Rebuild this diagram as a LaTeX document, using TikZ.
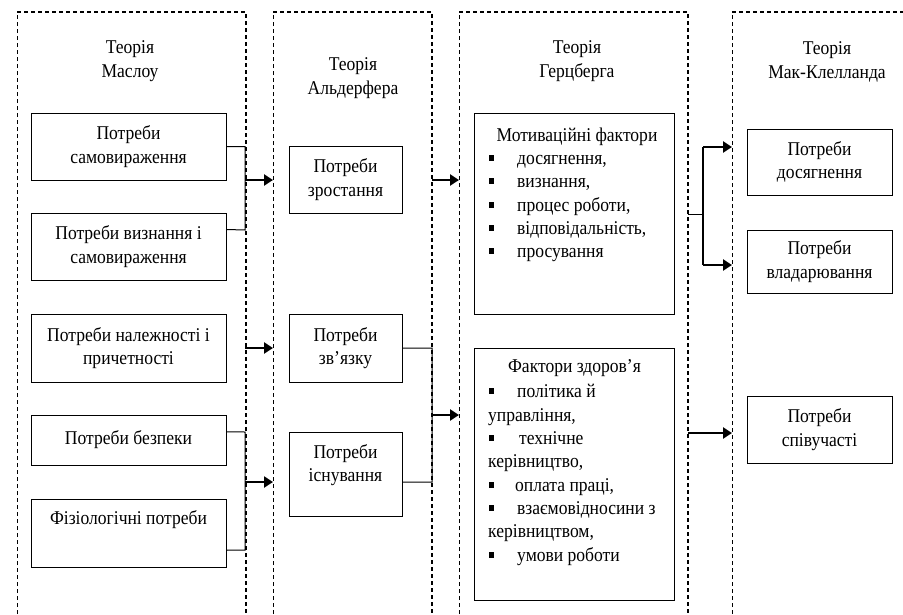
\documentclass[tikz,border=0pt]{standalone}
\usepackage{fontspec}
\setmainfont{Liberation Serif}[FakeStretch=0.9]
\usetikzlibrary{arrows.meta,calc}
\begin{document}
\begin{tikzpicture}[x=1pt,y=-1pt,
  every node/.style={font=\fontsize{19.5}{23.5}\selectfont, inner sep=0pt},
  frame/.style={line width=1.3pt, dash pattern=on 4pt off 3pt},
  thinframe/.style={line width=0.9pt, dash pattern=on 4pt off 3pt},
  box/.style={draw, line width=1pt, align=center},
  stub/.style={line width=1pt},
  arr/.style={line width=2.4pt, -{Triangle[length=9pt,width=11pt]}},
  title/.style={align=center},
  ln/.style={anchor=base west},
  bul/.style={fill=black, minimum size=5.5pt, inner sep=0pt},
]
\useasboundingbox (0,0) rectangle (903,614);
% frames
\draw[thinframe] (17,614) -- (17,12);
\draw[frame] (17,12) -- (246,12) -- (246,614);
\draw[thinframe] (273,614) -- (273,12);
\draw[frame] (273,12) -- (432,12) -- (432,614);
\draw[thinframe] (459,614) -- (459,12);
\draw[frame] (459,12) -- (688,12) -- (688,614);
\draw[thinframe] (732,614) -- (732,12);
\draw[frame] (732,12) -- (903,12);

% titles
\node[title] (tm) at (130,61) {Теорія\\Маслоу};
\node[title] (ta) at (353,78) {Теорія\\Альдерфера};
\node[title] (th) at (577,61) {Теорія\\Герцберга};
\node[title] (tc) at (827,62) {Теорія\\Мак-Клелланда};

% Maslow boxes
\node[box, minimum width=195pt, minimum height=67pt] (m1) at (128.5,146.5) {Потреби\\самовираження};
\node[box, minimum width=195pt, minimum height=67pt] (m2) at (128.5,246.5) {Потреби визнання і\\самовираження};
\node[box, minimum width=195pt, minimum height=68pt] (m3) at (128.5,348) {Потреби належності і\\причетності};
\node[box, minimum width=195pt, minimum height=50pt] (m4) at (128.5,440) {Потреби безпеки};
\node[box, minimum width=195pt, minimum height=68pt] (m5) at (128.5,533) {};
\node (m5t) at (128.5,520) {Фізіологічні потреби};

% Alderfer boxes
\node[box, minimum width=113pt, minimum height=67pt] (a1) at (345.5,179.5) {Потреби\\зростання};
\node[box, minimum width=113pt, minimum height=68pt] (a2) at (345.5,348) {Потреби\\зв’язку};
\node[box, minimum width=113pt, minimum height=84pt] (a3) at (345.5,474) {};
\node[title] (a3t) at (345.5,465) {Потреби\\існування};

% Herzberg boxes
\node[box, minimum width=200pt, minimum height=201pt] (h1) at (574,213.5) {};
\node[box, minimum width=200pt, minimum height=252pt] (h2) at (574,474) {};

\node[anchor=base] (h1t) at (577,141) {Мотиваційні фактори};
\foreach \y/\t [count=\i] in {164/{досягнення,},187/{визнання,},211/{процес роботи,},234/{відповідальність,},257/{просування}}{
  \node[bul] (hb\i) at (491.5,\y-6) {};
  \node[ln] (hl\i) at (517,\y) {\t};
}

\node[anchor=base] (h2t) at (574.5,372) {Фактори здоров’я};
\node[bul] (kb1) at (491.5,391) {};
\node[ln] (kl1) at (517,397) {політика й};
\node[ln] (kl1b) at (488,421) {управління,};
\node[bul] (kb2) at (491.5,438) {};
\node[ln] (kl2) at (519,444) {технічне};
\node[ln] (kl2b) at (488,467) {керівництво,};
\node[bul] (kb3) at (491.5,485) {};
\node[ln] (kl3) at (515,491) {оплата праці,};
\node[bul] (kb4) at (491.5,508) {};
\node[ln] (kl4) at (517,514) {взаємовідносини з};
\node[ln] (kl4b) at (488,537) {керівництвом,};
\node[bul] (kb5) at (491.5,555) {};
\node[ln] (kl5) at (517,561) {умови роботи};

% McClelland boxes
\node[box, minimum width=145pt, minimum height=66pt] (c1) at (819.5,162) {Потреби\\досягнення};
\node[box, minimum width=145pt, minimum height=63pt] (c2) at (819.5,261.5) {Потреби\\владарювання};
\node[box, minimum width=145pt, minimum height=67pt] (c3) at (819.5,429.5) {Потреби\\співучасті};

% connector coordinates
\coordinate (m2s) at ($(m2.north east)!0.25!(m2.south east)$);
\coordinate (m4s) at ($(m4.north east)!0.34!(m4.south east)$);
\coordinate (m5s) at ($(m5.north east)!0.75!(m5.south east)$);
\coordinate (a3s) at ($(a3.north east)!0.595!(a3.south east)$);

\coordinate (b1t) at (245,146.5);
\coordinate (b1b) at (245,230);
\coordinate (b1a) at (245,180);
\coordinate (fa1) at (273,180);
\coordinate (b2a) at (245,348);
\coordinate (fa2) at (273,348);
\coordinate (b3t) at (245,432);
\coordinate (b3b) at (245,550);
\coordinate (b3a) at (245,482);
\coordinate (fa3) at (273,482);

\coordinate (d1a) at (432,180);
\coordinate (fh1) at (459,180);
\coordinate (d2t) at (432,348);
\coordinate (d2b) at (432,482);
\coordinate (d2a) at (432,415);
\coordinate (fh2) at (459,415);

\coordinate (e1s) at (688,214);
\coordinate (e1m) at (703,214);
\coordinate (e1t) at (703,147);
\coordinate (e1b) at (703,265);
\coordinate (fc1) at (732,147);
\coordinate (fc2) at (732,265);
\coordinate (e2s) at (688,433);
\coordinate (fc3) at (732,433);

% connectors Maslow -> Alderfer
\draw[stub] (m1.east) -- (b1t) -- (b1b) -- (m2s);
\draw[arr] (b1a) -- (fa1);
\draw[arr] (b2a) -- (fa2);
\draw[stub] (m4s) -- (b3t) -- (b3b) -- (m5s);
\draw[arr] (b3a) -- (fa3);

% Alderfer -> Herzberg
\draw[arr] (d1a) -- (fh1);
\draw[stub] (a2.east) -- (d2t) -- (d2b) -- (a3s);
\draw[arr] (d2a) -- (fh2);

% Herzberg -> McClelland
\draw[stub] (e1s) -- (e1m);
\draw[line width=1.2pt] (e1t) -- (e1b);
\draw[arr] (e1t) -- (fc1);
\draw[arr] (e1b) -- (fc2);
\draw[arr] (e2s) -- (fc3);
\end{tikzpicture}
\end{document}
